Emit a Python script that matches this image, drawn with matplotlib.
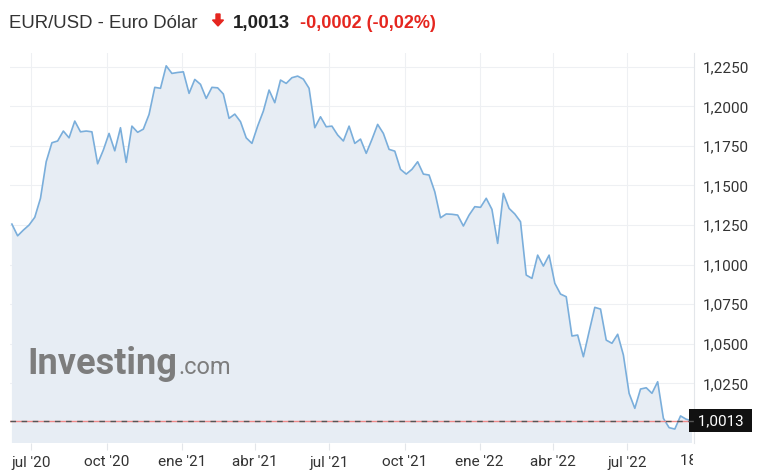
import numpy as np
import pandas as pd
import matplotlib
matplotlib.use('Agg')
import matplotlib.pyplot as plt
from matplotlib.patches import FancyArrow
from matplotlib.transforms import IdentityTransform, Bbox

plt.rcParams['font.family'] = ['Roboto', 'DejaVu Sans']

# cierres semanales EUR/USD
dates = pd.date_range('2020-06-07', periods=120, freq='W')
closes = [
    1.1256, 1.1182, 1.1218, 1.1250, 1.1299, 1.1419, 1.1650, 1.1770, 1.1781, 1.1844,
    1.1801, 1.1907, 1.1839, 1.1844, 1.1839, 1.1637, 1.1724, 1.1829, 1.1719, 1.1865,
    1.1646, 1.1875, 1.1836, 1.1856, 1.1949, 1.2120, 1.2114, 1.2256, 1.2208, 1.2214,
    1.2218, 1.2082, 1.2170, 1.2139, 1.2050, 1.2120, 1.2117, 1.2078, 1.1924, 1.1951,
    1.1903, 1.1801, 1.1766, 1.1875, 1.1970, 1.2103, 1.2023, 1.2166, 1.2145, 1.2181,
    1.2191, 1.2172, 1.2114, 1.1865, 1.1934, 1.1871, 1.1875, 1.1819, 1.1781, 1.1875,
    1.1766, 1.1793, 1.1703, 1.1791, 1.1886, 1.1829, 1.1728, 1.1717, 1.1602, 1.1572,
    1.1602, 1.1650, 1.1572, 1.1566, 1.1460, 1.1296, 1.1320, 1.1318, 1.1313, 1.1244,
    1.1313, 1.1366, 1.1362, 1.1419, 1.1349, 1.1134, 1.1450, 1.1355, 1.1320, 1.1271,
    1.0934, 1.0913, 1.1060, 1.0991, 1.1060, 1.0882, 1.0814, 1.0797, 1.0549, 1.0555,
    1.0418, 1.0576, 1.0730, 1.0719, 1.0523, 1.0503, 1.0560, 1.0429, 1.0187, 1.0092,
    1.0214, 1.0222, 1.0187, 1.0260, 1.0029, 0.9970, 0.9961, 1.0044, 1.0023, 1.0013,
]
last = 1.0013
y_ticks = [1.0250, 1.0500, 1.0750, 1.1000, 1.1250, 1.1500, 1.1750, 1.2000, 1.2250]
x_ticks = ['2020-07-01', '2020-10-01', '2021-01-01', '2021-04-01', '2021-07-01',
           '2021-10-01', '2022-01-01', '2022-04-01', '2022-07-01']
x_labels = ["jul '20", "oct '20", "ene '21", "abr '21", "jul '21",
            "oct '21", "ene '22", "abr '22", "jul '22"]

W, H = 768, 476
fig = plt.figure(figsize=(W / 100, H / 100), dpi=100)
ax = fig.add_axes([10 / W, 33 / H, 684 / W, 390 / H])

ax.fill_between(dates, closes, 0.9, color='#e7edf4', lw=0)
ax.plot(dates, closes, color='#7aaedb', lw=1.2)

ax.set_xlim(pd.Timestamp('2020-06-04 16:00'), pd.Timestamp('2022-09-20 12:00'))
ax.set_ylim(0.9873, 1.2337)

# linea del ultimo precio
ax.axhline(last, color='#f08a8a', lw=1.0, zorder=3)
ax.axhline(last, color='#555555', lw=1.0, dashes=(4, 4), zorder=4)

ax.set_yticks(y_ticks)
ax.set_yticklabels([f'{v:.4f}'.replace('.', ',') for v in y_ticks])
ax.yaxis.tick_right()
ax.set_xticks(pd.to_datetime(x_ticks))
ax.set_xticklabels(x_labels)
ax.tick_params(axis='y', length=0, pad=6, labelsize=11, labelcolor='#333333')
ax.tick_params(axis='x', length=5, width=0.8, color='#e3e6ea', pad=4,
               labelsize=11, labelcolor='#333333')
ax.grid(True, color='#eef0f3', lw=0.8)
ax.set_axisbelow(True)
for s in ['top', 'left', 'bottom']:
    ax.spines[s].set_visible(False)
ax.spines['right'].set_color('#e3e6ea')

# etiqueta cortada en el borde derecho
t = fig.text(680 / W, 1 - 461 / H, '18 sep', ha='left', va='center',
             fontsize=11, color='#333333')
t.set_clip_box(Bbox.from_extents(0, 0, 693, H))
t.set_clip_on(True)

# caja del ultimo precio
ax.text(1.0, last, ' 1,0013 ', transform=ax.get_yaxis_transform(), ha='left',
        va='center', fontsize=11, color='white',
        bbox=dict(boxstyle='square,pad=0.3', fc='#111111', ec='none'))

# marca de agua
wm = ax.text(0.026, 0.177, 'Investing', transform=ax.transAxes, fontsize=26,
             fontweight='bold', color='#7d7d7d', va='baseline')
fig.canvas.draw()
ext = wm.get_window_extent()
fig.text((ext.x1 + 1) / W, (H - 443) / H + 0.177 * 390 / H, '.com', fontsize=17,
         color='#7d7d7d', va='baseline')

# cabecera
fig.text(9 / W, 1 - 28 / H, 'EUR/USD - Euro Dólar', fontsize=13.4, color='#333333',
         va='baseline', family='Liberation Sans')
fig.add_artist(FancyArrow(218, H - 14, 0, -12, width=4, head_width=11,
                          head_length=6, length_includes_head=True,
                          color='#e5261f', transform=IdentityTransform()))
fig.text(233 / W, 1 - 28 / H, '1,0013', fontsize=13.5, fontweight='bold',
         color='#222222', va='baseline', family='Liberation Sans')
fig.text(300 / W, 1 - 28 / H, '-0,0002 (-0,02%)', fontsize=13,
         fontweight='bold', color='#e5261f', va='baseline',
         family='Liberation Sans')

fig.savefig('out.png', dpi=100)
